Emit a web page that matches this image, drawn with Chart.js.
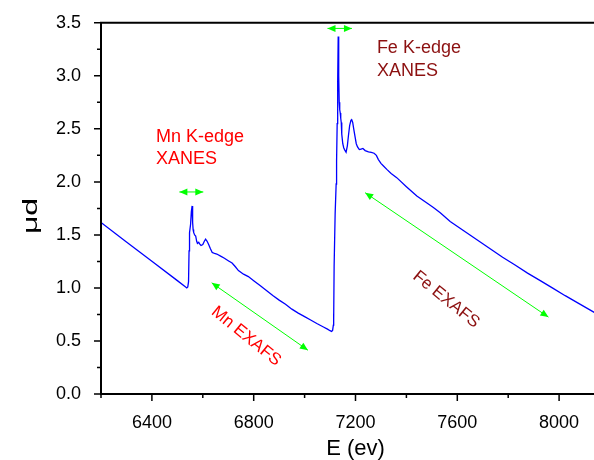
<!DOCTYPE html>
<html>
<head>
<meta charset="utf-8">
<title>XAS spectrum</title>
<script src="https://cdn.jsdelivr.net/npm/chart.js@4.4.0/dist/chart.umd.min.js"></script>
<style>
  html, body { margin: 0; padding: 0; background: #fff; overflow: hidden; }
  #wrap { width: 594px; height: 460px; overflow: hidden; }
  canvas { display: block; }
</style>
</head>
<body>
<div id="wrap"><canvas id="xas" width="612" height="460"></canvas></div>
<script>
// absorption spectrum, Mn and Fe K-edges
const energy = [
  6200, 6300, 6400, 6500, 6530, 6537, 6541, 6544, 6546, 6547, 6547.5, 6549,
  6552, 6555, 6558, 6560, 6562, 6564, 6568, 6572, 6576, 6579, 6584, 6589,
  6593, 6600, 6606, 6611, 6617, 6623, 6630, 6637, 6646, 6655, 6670, 6685,
  6700, 6715, 6728, 6740, 6760, 6779, 6800, 6825, 6850, 6875, 6900, 6925,
  6950, 6975, 7000, 7022, 7048, 7074, 7090, 7100, 7106, 7110, 7113, 7114,
  7114.5, 7116, 7120, 7124, 7125, 7125.5, 7126.5, 7128, 7130, 7132, 7134, 7136,
  7138, 7140, 7142, 7144, 7146, 7150, 7154, 7158, 7163, 7168, 7172, 7177,
  7182, 7185, 7189, 7193, 7198, 7203, 7208, 7215, 7222, 7229, 7238, 7251,
  7262, 7273, 7282, 7290, 7300, 7310, 7323, 7340, 7362, 7400, 7441, 7475,
  7506, 7533, 7572, 7631, 7680, 7729, 7778, 7827, 7876, 7926, 7975, 8024,
  8080, 8138, 8200
];
const mu = [
  1.617, 1.434, 1.252, 1.069, 1.013, 1.000, 1.010, 1.060, 1.350, 1.510, 1.410, 1.520,
  1.600, 1.720, 1.773, 1.620, 1.550, 1.523, 1.500, 1.490, 1.440, 1.420, 1.430, 1.410,
  1.400, 1.410, 1.440, 1.460, 1.440, 1.410, 1.370, 1.335, 1.325, 1.320, 1.300, 1.280,
  1.257, 1.235, 1.200, 1.164, 1.130, 1.107, 1.068, 1.023, 0.975, 0.928, 0.885, 0.846,
  0.800, 0.763, 0.730, 0.700, 0.665, 0.632, 0.612, 0.597, 0.590, 0.600, 0.650, 0.760,
  0.700, 1.200, 1.700, 1.980, 2.100, 2.020, 2.200, 2.550, 2.950, 3.370, 3.000, 2.750,
  2.680, 2.650, 2.600, 2.560, 2.450, 2.360, 2.320, 2.300, 2.280, 2.340, 2.430, 2.530,
  2.580, 2.587, 2.560, 2.500, 2.430, 2.360, 2.330, 2.305, 2.310, 2.315, 2.295, 2.283,
  2.278, 2.270, 2.250, 2.210, 2.175, 2.150, 2.118, 2.080, 2.040, 1.955, 1.867, 1.810,
  1.758, 1.710, 1.626, 1.530, 1.450, 1.370, 1.290, 1.216, 1.140, 1.069, 0.998, 0.927,
  0.850, 0.770, 0.688
];
const xTickLabels = [6400, 6800, 7200, 7600, 8000];

// double-headed green arrows, ends in data units
const arrowFrom = [[6508, 1.905], [7090, 3.447], [6635, 1.048], [7238, 1.898]];
const arrowTo = [[6602, 1.905], [7186, 3.447], [7013, 0.413], [7958, 0.725]];

const FONT = '"Liberation Sans", Arial, sans-serif';
const MN_RED = '#ff0000';
const FE_RED = '#8c1010';

const notes = [
  { lines: ['Mn K-edge', 'XANES'], at: [6416, 2.377], color: MN_RED },
  { lines: ['Fe K-edge', 'XANES'], at: [7284, 3.212], color: FE_RED },
  { lines: ['Mn EXAFS'], at: [6770, 0.544], color: MN_RED, angle: 39 },
  { lines: ['Fe EXAFS'], at: [7556, 0.891], color: FE_RED, angle: 39 }
];

function arrowHead(ctx, x, y, ang) {
  const L = 8, W = 3.5;
  const c = Math.cos(ang), s = Math.sin(ang);
  ctx.beginPath();
  ctx.moveTo(x, y);
  ctx.lineTo(x - L * c + W * s, y - L * s - W * c);
  ctx.lineTo(x - L * c - W * s, y - L * s + W * c);
  ctx.closePath();
  ctx.fill();
}

const decorations = {
  id: 'decorations',
  afterDatasetsDraw(chart) {
    const { ctx, scales: { x, y } } = chart;
    ctx.save();
    ctx.strokeStyle = '#00ff00';
    ctx.fillStyle = '#00ff00';
    ctx.lineWidth = 1;
    arrowFrom.forEach((p, i) => {
      const x1 = x.getPixelForValue(p[0]), y1 = y.getPixelForValue(p[1]);
      const x2 = x.getPixelForValue(arrowTo[i][0]), y2 = y.getPixelForValue(arrowTo[i][1]);
      ctx.beginPath();
      ctx.moveTo(x1, y1);
      ctx.lineTo(x2, y2);
      ctx.stroke();
      arrowHead(ctx, x2, y2, Math.atan2(y2 - y1, x2 - x1));
      arrowHead(ctx, x1, y1, Math.atan2(y1 - y2, x1 - x2));
    });

    notes.forEach(n => {
      const px = x.getPixelForValue(n.at[0]), py = y.getPixelForValue(n.at[1]);
      ctx.fillStyle = n.color;
      if (n.angle) {
        ctx.save();
        ctx.font = '17px ' + FONT;
        ctx.translate(px, py);
        ctx.rotate(n.angle * Math.PI / 180);
        ctx.textAlign = 'center';
        ctx.textBaseline = 'middle';
        ctx.fillText(n.lines[0], 0, 0);
        ctx.restore();
      } else {
        ctx.font = '18px ' + FONT;
        ctx.textAlign = 'left';
        ctx.textBaseline = 'alphabetic';
        n.lines.forEach((t, k) => ctx.fillText(t, px, py + k * 22.5));
      }
    });
    ctx.restore();
  },
  afterDraw(chart) {
    const { ctx, chartArea: a, scales: { x, y } } = chart;
    ctx.save();
    ctx.strokeStyle = '#000';
    // frame
    ctx.lineWidth = 2;
    ctx.beginPath();
    ctx.moveTo(a.left, a.bottom); ctx.lineTo(a.left, a.top);
    ctx.lineTo(a.right, a.top); ctx.lineTo(a.right, a.bottom);
    ctx.closePath();
    ctx.stroke();
    // outward ticks, majors every 0.5 / 400 eV, minors between
    ctx.lineWidth = 1.5;
    ctx.beginPath();
    for (let k = 0; k <= 14; k++) {
      const py = y.getPixelForValue(k * 0.25);
      const len = k % 2 === 0 ? 7 : 4;
      ctx.moveTo(a.left, py); ctx.lineTo(a.left - len, py);
      ctx.moveTo(a.right, py); ctx.lineTo(a.right + len, py);
    }
    for (let e = 6200; e <= 8200; e += 200) {
      const px = x.getPixelForValue(e);
      const len = (e - 6400) % 400 === 0 ? 7 : 4;
      ctx.moveTo(px, a.bottom); ctx.lineTo(px, a.bottom + len);
    }
    ctx.stroke();
    // y title
    ctx.fillStyle = '#000';
    ctx.font = '20px ' + FONT;
    ctx.textAlign = 'center';
    ctx.textBaseline = 'middle';
    ctx.translate(31, 216);
    ctx.rotate(-Math.PI / 2);
    ctx.scale(1.6, 1);
    ctx.fillText('μd', 0, 0);
    ctx.restore();
  }
};

new Chart(document.getElementById('xas'), {
  type: 'line',
  data: {
    datasets: [{
      data: energy.map((e, i) => ({ x: e, y: mu[i] })),
      borderColor: '#0000ff',
      borderWidth: 1.3,
      pointRadius: 0,
      tension: 0,
      fill: false
    }]
  },
  options: {
    responsive: false,
    animation: false,
    events: [],
    layout: { padding: { top: 21, right: 2, left: 0, bottom: 0 } },
    plugins: { legend: { display: false }, tooltip: { enabled: false } },
    scales: {
      x: {
        type: 'linear',
        min: 6200,
        max: 8200,
        grid: { display: false },
        border: { display: false },
        afterBuildTicks: s => { s.ticks = xTickLabels.map(v => ({ value: v })); },
        afterFit: s => { s.height = 66; },
        ticks: {
          autoSkip: false,
          maxRotation: 0,
          padding: 10,
          color: '#000',
          font: { family: FONT, size: 18 },
          callback: v => String(v)
        },
        title: {
          display: true,
          text: 'E (ev)',
          color: '#000',
          font: { family: FONT, size: 22, lineHeight: 1 },
          padding: 0
        }
      },
      y: {
        min: 0,
        max: 3.5,
        grid: { display: false },
        border: { display: false },
        afterFit: s => { s.width = 101; },
        ticks: {
          stepSize: 0.5,
          padding: 12,
          color: '#000',
          font: { family: FONT, size: 18 },
          callback: v => v.toFixed(1)
        }
      }
    }
  },
  plugins: [decorations]
});
</script>
</body>
</html>
